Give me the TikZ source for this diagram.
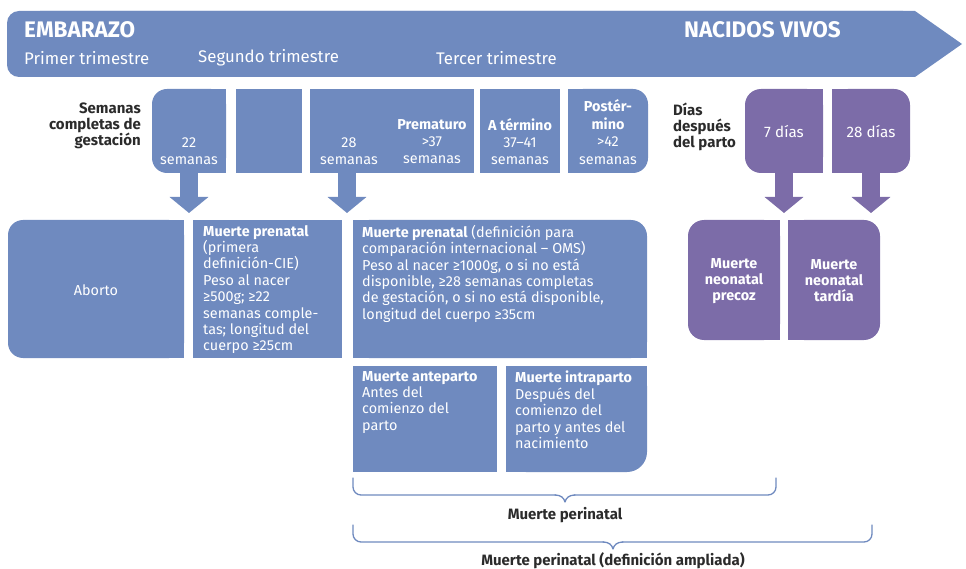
\documentclass[tikz,border=0pt]{standalone}
\usepackage{fontspec}
\setmainfont{Fira Sans}
\usetikzlibrary{arrows.meta}

\definecolor{pblue}{HTML}{6F8ABF}
\definecolor{ppurple}{HTML}{7C6CA8}
\definecolor{ptext}{HTML}{2B2B2B}

\begin{document}
\begin{tikzpicture}[
  x=1pt, y=-1pt,
  font=\fontsize{14.4}{16.4}\selectfont,
  wkbox/.style={fill=pblue, inner sep=0pt, minimum height=84pt},
  daybox/.style={fill=ppurple, inner sep=0pt, minimum height=84pt, minimum width=78pt},
  defbox/.style={fill=pblue, inner sep=0pt, minimum height=138pt},
  nnbox/.style={fill=ppurple, inner sep=0pt, minimum height=120pt, minimum width=92pt},
  subbox/.style={fill=pblue, inner sep=0pt, minimum height=106pt},
  wtxt/.style={text=white, align=center, inner sep=0pt},
  deftxt/.style={text=white, align=left, anchor=north west, inner sep=0pt},
  side/.style={text=ptext, inner sep=0pt, font=\bfseries\fontsize{15}{16}\selectfont},
  bannertxt/.style={text=white, anchor=west, inner sep=0pt},
  downarrow/.style={line width=18pt, -{Triangle[width=38pt, length=16pt]}},
  bracket/.style={draw=pblue, line width=1.3pt, line cap=round, line join=round},
  bracelbl/.style={text=ptext, inner sep=0pt, font=\bfseries\fontsize{15}{16}\selectfont},
]
\useasboundingbox (0,0) rectangle (966,569);

% Banner arrow along the top
\fill[pblue, rounded corners=12pt] (7,11) rectangle (915,77);
\fill[pblue] (40,11) -- (915,11) -- (962,44) -- (915,77) -- (40,77) -- cycle;
\node[bannertxt, font=\bfseries\fontsize{22.5}{24}\selectfont] (embarazo) at (24,30) {EMBARAZO};
\node[bannertxt, font=\bfseries\fontsize{22.5}{24}\selectfont] (vivos) at (684,30) {NACIDOS VIVOS};
\node[bannertxt, font=\fontsize{16.8}{18}\selectfont] (tri1) at (24,58) {Primer trimestre};
\node[bannertxt, font=\fontsize{16.8}{18}\selectfont] (tri2) at (198,58) {Segundo trimestre};
\node[bannertxt, font=\fontsize{16.8}{18}\selectfont] (tri3) at (436,58) {Tercer trimestre};

% Weeks of gestation
\node[side, anchor=east, align=right] (wklbl) at (141,126) {Semanas\\completas de\\gestación};
\node[wkbox, minimum width=74pt, rounded corners=15pt] (wk22) at (189,131) {};
\fill[pblue] (wk22.north) rectangle (wk22.south east);
\node[wkbox, minimum width=66pt] (wkgap) at (269,131) {};
\node[wkbox, minimum width=164pt] (wk28) at (392,131) {};
\node[wkbox, minimum width=80pt] (wkterm) at (520,131) {};
\node[wkbox, minimum width=80pt, rounded corners=15pt] (wkpost) at (608,131) {};
\fill[pblue] (wkpost.north west) rectangle (wkpost.south);

\node[wtxt] (t22) at (189,151) {22\\semanas};
\node[wtxt] (t28) at (349,151) {28\\semanas};
\node[wtxt, font=\fontsize{14.4}{17}\selectfont] (tpre) at (432,142) {\textbf{Prematuro}\\>37\\semanas};
\node[wtxt, font=\fontsize{14.4}{17}\selectfont] (tterm) at (520,142) {\textbf{A término}\\37--41\\semanas};
\node[wtxt, font=\fontsize{14.4}{17.5}\selectfont] (tpost) at (608,132) {\textbf{Postér-}\\\textbf{mino}\\>42\\semanas};

% Days after birth
\node[side, anchor=west, align=left] (dlbl) at (673,127) {Días\\después\\del parto};
\node[daybox, rounded corners=16pt] (d7) at (784,131) {};
\fill[ppurple] (d7.north) rectangle (d7.south east);
\node[daybox, rounded corners=16pt] (d28) at (871,131) {};
\fill[ppurple] (d28.north west) rectangle (d28.south);
\node[wtxt, font=\fontsize{15.2}{17}\selectfont] (t7) at (784,132) {7 días};
\node[wtxt, font=\fontsize{15.2}{17}\selectfont] (t28d) at (871,132) {28 días};

% Arrows down
\coordinate (a1) at (189,213);
\coordinate (a2) at (347,213);
\coordinate (a3) at (784,213);
\coordinate (a4) at (871,213);
\draw[downarrow, pblue] (wk22.south) -- (a1);
\draw[downarrow, pblue] (a2 |- wk28.south) -- (a2);
\draw[downarrow, ppurple] (d7.south) -- (a3);
\draw[downarrow, ppurple] (d28.south) -- (a4);

% Definitions
\node[defbox, minimum width=176pt, rounded corners=15pt] (aborto) at (96,289) {};
\fill[pblue] (aborto.north) rectangle (aborto.south east);
\node[wtxt] (taborto) at (96,290) {Aborto};

\node[defbox, minimum width=149pt] (prenat) at (267.5,289) {};
\node[deftxt] (tprenat) at (203,225) {\textbf{Muerte prenatal}\\(primera\\definición-CIE)\\Peso al nacer\\≥500g; ≥22\\semanas comple-\\tas; longitud del\\cuerpo ≥25cm};

\node[defbox, minimum width=294pt, rounded corners=16pt] (oms) at (500,289) {};
\fill[pblue] (oms.north west) rectangle (oms.south);
\fill[pblue] (oms.center) rectangle (oms.south east);
\node[deftxt] (toms) at (362,225) {\textbf{Muerte prenatal} (definición para\\comparación internacional -- OMS)\\Peso al nacer ≥1000g, o si no está\\disponible, ≥28 semanas completas\\de gestación, o si no está disponible,\\longitud del cuerpo ≥35cm};

\node[subbox, minimum width=144pt] (ante) at (425,419) {};
\node[deftxt] (tante) at (362,371) {\textbf{Muerte anteparto}\\Antes del\\comienzo del\\parto};
\node[subbox, minimum width=141pt, rounded corners=20pt] (intra) at (576.5,419) {};
\fill[pblue] (intra.north west) rectangle (intra.south);
\fill[pblue] (intra.north) rectangle (intra.east);
\node[deftxt] (tintra) at (515,371) {\textbf{Muerte intraparto}\\Después del\\comienzo del\\parto y antes del\\nacimiento};

\node[nnbox, rounded corners=16pt] (precoz) at (734,280) {};
\fill[ppurple] (precoz.north) rectangle (precoz.south east);
\node[nnbox, rounded corners=16pt] (tardia) at (834,280) {};
\fill[ppurple] (tardia.north west) rectangle (tardia.south);
\node[wtxt, font=\bfseries\fontsize{14.4}{16}\selectfont] (tprecoz) at (734,281) {Muerte\\neonatal\\precoz};
\node[wtxt, font=\bfseries\fontsize{14.4}{16}\selectfont] (ttardia) at (834,281) {Muerte\\neonatal\\tardía};

% Braces below
\draw[bracket, rounded corners=8pt] (353,478) -- (353,495) -- (556,495);
\draw[bracket] (555,495) .. controls (561,495) and (564,498) .. (565,502)
  .. controls (566,498) and (569,495) .. (575,495);
\draw[bracket, rounded corners=8pt] (574,495) -- (776,495) -- (776,478);
\node[bracelbl] (peri) at (565,515) {Muerte perinatal};

\draw[bracket, rounded corners=8pt] (353,525) -- (353,542) -- (604,542);
\draw[bracket] (603,542) .. controls (609,542) and (612,545) .. (613,549)
  .. controls (614,545) and (617,542) .. (623,542);
\draw[bracket, rounded corners=8pt] (622,542) -- (872,542) -- (872,525);
\node[bracelbl] (periamp) at (613,561) {Muerte perinatal (definición ampliada)};

\end{tikzpicture}
\end{document}
